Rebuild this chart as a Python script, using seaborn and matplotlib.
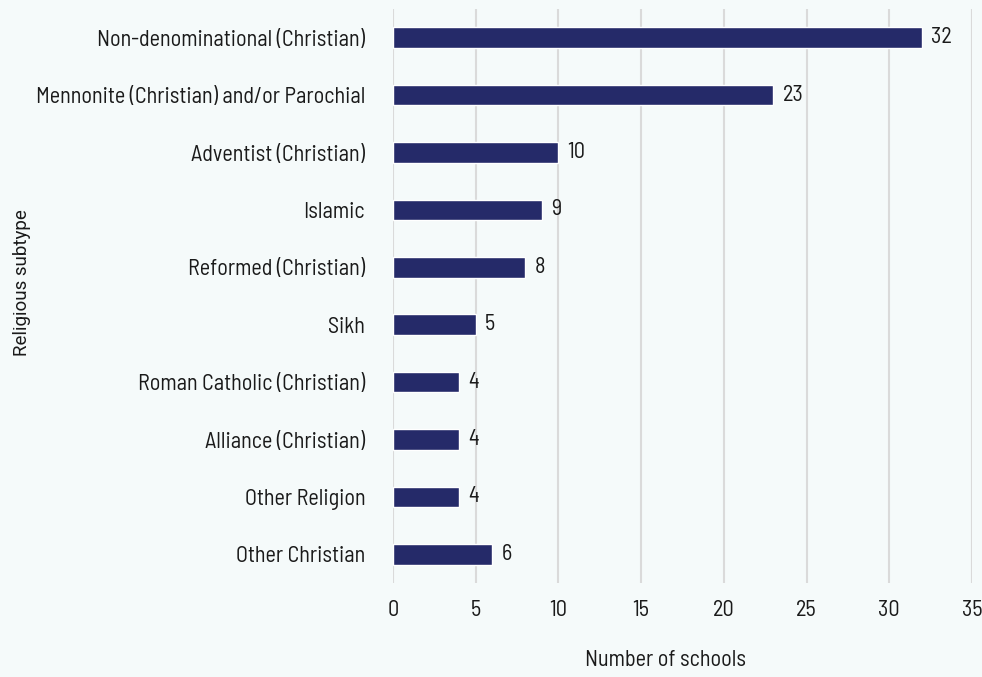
import matplotlib
matplotlib.use("Agg")
import matplotlib.pyplot as plt
import seaborn as sns
import pandas as pd

categories = [
    "Non-denominational (Christian)",
    "Mennonite (Christian) and/or Parochial",
    "Adventist (Christian)",
    "Islamic",
    "Reformed (Christian)",
    "Sikh",
    "Roman Catholic (Christian)",
    "Alliance (Christian)",
    "Other Religion",
    "Other Christian",
]
counts = [32, 23, 10, 9, 8, 5, 4, 4, 4, 6]
x_ticks = [0, 5, 10, 15, 20, 25, 30, 35]

sns.set_theme(style="white")
plt.rcParams["font.family"] = ["Barlow Semi Condensed", "DejaVu Sans"]

bg = "#F5FAFA"
bar_color = "#252A69"
text_color = "#1a1a1a"

df = pd.DataFrame({"category": categories, "count": counts})

fig = plt.figure(figsize=(9.82, 6.77), dpi=100, facecolor=bg)
ax = fig.add_axes([0.4002, 0.1388, 0.5896, 0.8479])
ax.set_facecolor(bg)

sns.barplot(data=df, x="count", y="category", color=bar_color, width=0.36,
            saturation=1, ax=ax, orient="h")

ax.set_xlim(0, 35)
ax.set_ylim(9.5, -0.5)
ax.set_xticks(x_ticks)
ax.xaxis.grid(True, color="#DADADA", linewidth=1.5)
ax.set_axisbelow(True)
for s in ax.spines.values():
    s.set_visible(False)

ax.tick_params(axis="x", length=6, width=1.5, color="#DADADA", pad=6,
               labelsize=16, labelcolor=text_color)
ax.tick_params(axis="y", length=0, pad=20, labelsize=16, labelcolor=text_color)

for i, v in enumerate(counts):
    ax.text(v + 0.55, i, str(v), va="center", ha="left", fontsize=16,
            color=text_color)

ax.set_xlabel("Number of schools", fontsize=16, color=text_color)
ax.xaxis.set_label_coords(0.4715, -0.117)
ax.set_ylabel("")
fig.text(0.0225, 0.583, "Religious subtype", rotation=90, va="center", ha="center",
         fontsize=13.5, color=text_color, family=["Roboto", "DejaVu Sans"])

fig.savefig("out.png", dpi=100, facecolor=bg)
